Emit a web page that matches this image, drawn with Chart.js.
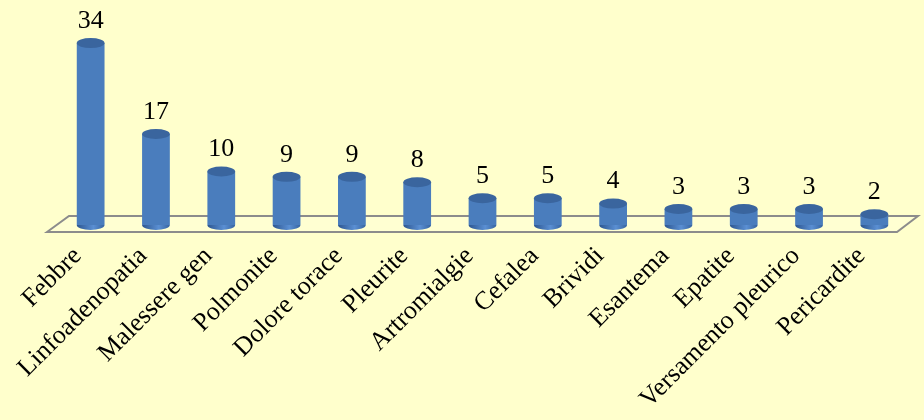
<!DOCTYPE html>
<html>
<head>
<meta charset="utf-8">
<script src="https://cdn.jsdelivr.net/npm/chart.js@4.4.1/dist/chart.umd.min.js"></script>
<style>
  html, body { margin: 0; padding: 0; background: #ffffcc; }
  #wrap { width: 924px; height: 420px; }
</style>
</head>
<body>
<div id="wrap"><canvas id="SymptomChart"></canvas></div>
<script>
const categories = ["Febbre", "Linfoadenopatia", "Malessere gen", "Polmonite", "Dolore torace",
  "Pleurite", "Artromialgie", "Cefalea", "Brividi", "Esantema", "Epatite",
  "Versamento pleurico", "Pericardite"];
const counts = [34, 17, 10, 9, 9, 8, 5, 5, 4, 3, 3, 3, 2];

const FONT = "'Liberation Serif', 'Times New Roman', serif";

// floor + cylinder caps + value labels
const cylinderPlugin = {
  id: "cylinders",
  beforeDatasetsDraw(chart) {
    const { ctx, chartArea } = chart;
    const base = chart.scales.y.getPixelForValue(0);
    ctx.save();
    ctx.beginPath();
    ctx.moveTo(chartArea.left - 11, base + 7);
    ctx.lineTo(chartArea.left + 11, base - 9);
    ctx.lineTo(chartArea.right + 11, base - 9);
    ctx.lineTo(chartArea.right - 10, base + 7);
    ctx.closePath();
    ctx.fillStyle = "#ffffd2";
    ctx.fill();
    ctx.strokeStyle = "#8c8c8c";
    ctx.lineWidth = 2;
    ctx.stroke();
    ctx.restore();
  },
  afterDatasetsDraw(chart) {
    const { ctx } = chart;
    const meta = chart.getDatasetMeta(0);
    ctx.save();
    meta.data.forEach((bar, i) => {
      const w = bar.width, rx = w / 2, ry = 5;
      const x = bar.x, top = bar.y, base = bar.base;
      const grad = ctx.createLinearGradient(x - rx, 0, x + rx, 0);
      grad.addColorStop(0, "#2d5690");
      grad.addColorStop(0.6, "#5a8fd3");
      grad.addColorStop(1, "#3764a0");
      // bottom rounded edge
      ctx.beginPath();
      ctx.ellipse(x, base, rx, ry, 0, 0, Math.PI);
      ctx.fillStyle = grad;
      ctx.fill();
      // top cap
      ctx.beginPath();
      ctx.ellipse(x, top, rx, ry, 0, 0, Math.PI * 2);
      ctx.fillStyle = "#3a659e";
      ctx.fill();
      // value label
      ctx.fillStyle = "#000";
      ctx.font = "26px " + FONT;
      ctx.textAlign = "center";
      ctx.textBaseline = "bottom";
      ctx.fillText(String(counts[i]), x, top - 9);
    });
    ctx.restore();
  }
};

const ctx = document.getElementById("SymptomChart").getContext("2d");
const sideFill = (c) => {
  const bar = c.element;
  if (!bar || !bar.width) return "#4a7dbd";
  const g = c.chart.ctx.createLinearGradient(bar.x - bar.width / 2, 0, bar.x + bar.width / 2, 0);
  g.addColorStop(0, "#2d5690");
  g.addColorStop(0.6, "#5a8fd3");
  g.addColorStop(1, "#3764a0");
  return g;
};

new Chart(ctx, {
  type: "bar",
  data: {
    labels: categories,
    datasets: [{
      data: counts,
      backgroundColor: sideFill,
      borderWidth: 0,
      barPercentage: 0.85,
      categoryPercentage: 0.5,
    }],
  },
  options: {
    responsive: true,
    maintainAspectRatio: false,
    animation: false,
    layout: { padding: { left: 58, right: 17, top: 11, bottom: 0 } },
    plugins: {
      legend: { display: false },
      tooltip: { enabled: false },
    },
    scales: {
      x: {
        grid: { display: false },
        border: { display: false },
        ticks: {
          color: "#000",
          font: { family: FONT, size: 26 },
          minRotation: 45,
          maxRotation: 45,
          padding: 8,
          labelOffset: -13,
          autoSkip: false,
        },
        afterFit: (axis) => { axis.height = 195; },
      },
      y: {
        display: false,
        min: 0,
        max: 40,
      },
    },
  },
  plugins: [cylinderPlugin],
});
</script>
</body>
</html>
